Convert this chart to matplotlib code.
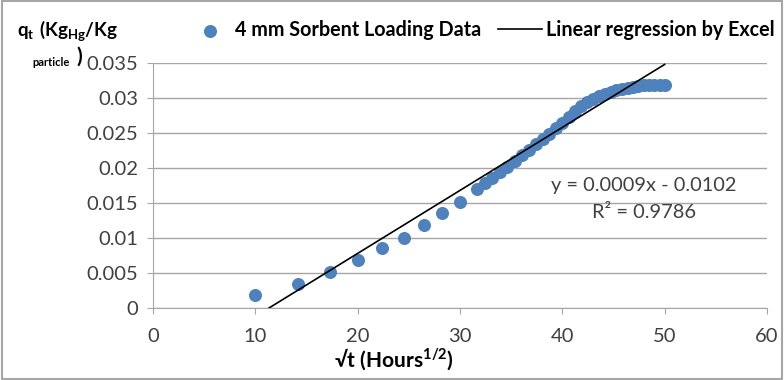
import numpy as np
import matplotlib.pyplot as plt
from matplotlib.patches import Rectangle

plt.rcParams['font.family'] = ['Lato', 'DejaVu Sans']
plt.rcParams['mathtext.fontset'] = 'custom'
plt.rcParams['mathtext.rm'] = 'Lato'
plt.rcParams['mathtext.bf'] = 'Lato:bold'

# sqrt(t) values (Hours^1/2) and loading q_t
sqrt_t = [10.00, 14.14, 17.32, 20.00, 22.36, 24.49, 26.46, 28.28, 30.00,
          31.62, 32.40, 33.17, 33.91, 34.64, 35.36, 36.06, 36.74, 37.42,
          38.08, 38.73, 39.37, 40.00, 40.62, 41.23, 41.83, 42.43, 43.01,
          43.59, 44.16, 44.72, 45.28, 45.83, 46.37, 46.90, 47.43, 47.96,
          48.48, 48.99, 49.50, 50.00]
q_t = [0.0018, 0.0035, 0.0052, 0.0069, 0.0086, 0.0100, 0.0119, 0.0136, 0.0152,
       0.0170, 0.0178, 0.0186, 0.0194, 0.0202, 0.0210, 0.0218, 0.0226, 0.0234,
       0.0241, 0.0249, 0.0257, 0.0265, 0.0273, 0.0281, 0.0288, 0.0294, 0.0299,
       0.0303, 0.0306, 0.0309, 0.0311, 0.0313, 0.0315, 0.0316, 0.0317, 0.0318,
       0.0318, 0.0319, 0.0319, 0.0319]

# Excel trendline
slope = 0.0009
intercept = -0.0102
r2 = 0.9786

W, H = 784, 380
fig = plt.figure(figsize=(W / 100, H / 100), dpi=100)
ax = fig.add_axes([153 / W, 1 - 308 / H, (767 - 153) / W, (308 - 63) / H])

ax.scatter(sqrt_t, q_t, s=70, color='#4F81BD', zorder=3,
           label='4 mm Sorbent Loading Data')
xl = np.array([10, 50])
ax.plot(xl, slope * xl + intercept, color='black', lw=1.2, zorder=4,
        label='Linear regression by Excel')

ax.set_xlim(0, 60)
ax.set_ylim(0, 0.035)
ax.set_xticks(range(0, 61, 10))
ax.set_yticks(np.arange(0, 0.0351, 0.005))
ax.set_yticklabels(['0', '0.005', '0.01', '0.015', '0.02', '0.025', '0.03', '0.035'])
ax.grid(axis='y', color='#a6a6a6', lw=1)
ax.set_axisbelow(True)
for s in ['top', 'right']:
    ax.spines[s].set_visible(False)
for s in ['left', 'bottom']:
    ax.spines[s].set_color('#a6a6a6')
ax.tick_params(colors='#a6a6a6', labelcolor='#404040', labelsize=14.5, length=4.5)
ax.tick_params(axis='x', pad=10)
ax.tick_params(axis='y', pad=6)

ax.text(48.0, 0.01757, f'y = {slope}x - {abs(intercept)}', fontsize=14.4,
        color='#404040', ha='center', va='center')
ax.text(48.0, 0.01371, f'R² = {r2}', fontsize=14.4, color='#404040',
        ha='center', va='center')

fig.text(394 / W, 1 - 360 / H, r'√t (Hours$^{\mathbf{1/2}}$)', fontsize=15,
         fontweight='bold', ha='center', va='center')
fig.text(17 / W, 1 - 31 / H, r'$\mathbf{q_{t}\ (Kg_{Hg}/Kg}$', fontsize=13.5,
         ha='left', va='center')
fig.text(32 / W, 1 - 62 / H, 'particle', fontsize=8, fontweight='bold',
         ha='left', va='center')
fig.text(76 / W, 1 - 57 / H, ')', fontsize=15, fontweight='bold',
         ha='left', va='center')

fig.legend(loc='center', bbox_to_anchor=(481 / W, 1 - 30 / H), ncol=2,
           frameon=False, prop={'weight': 'bold', 'size': 14.2},
           handlelength=2.2, columnspacing=0.85, handletextpad=0.2,
           borderaxespad=0, borderpad=0)

fig.patches.append(Rectangle((0.002, 0.003), 0.996, 0.994, transform=fig.transFigure,
                             fill=False, edgecolor='#a6a6a6', lw=1.5))

fig.savefig('out.png', dpi=100)
